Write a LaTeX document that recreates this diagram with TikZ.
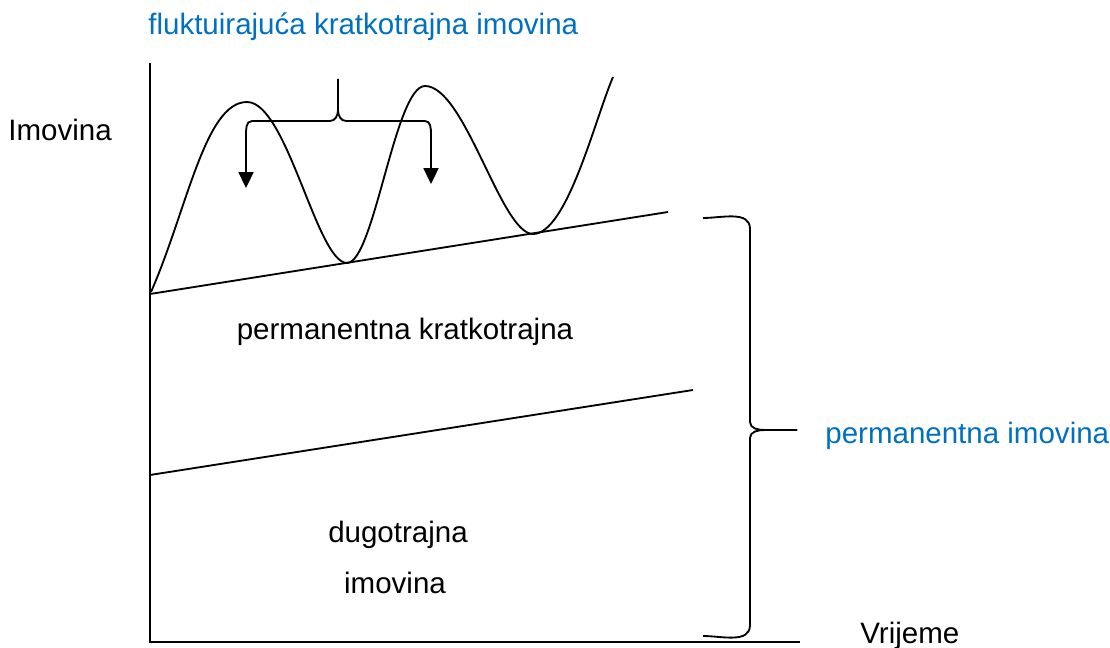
\documentclass[tikz,border=0pt]{standalone}
\usepackage{fontspec}
\setmainfont{Liberation Sans}
\usepackage{xcolor}
\usetikzlibrary{arrows.meta,positioning,calc}
\definecolor{lblue}{RGB}{0,112,192}

\begin{document}
\begin{tikzpicture}[
    x=0.02cm, y=-0.02cm,
    lbl/.style={font=\fontsize{16.8}{20}\selectfont, inner sep=0pt},
    blbl/.style={lbl, text=lblue},
    ln/.style={line width=1.05pt},
    arr/.style={ln, -{Triangle[length=9pt,width=8.5pt]}}
  ]
    \useasboundingbox (0,0) rectangle (1110,648);
    % axes
    \coordinate (o) at (150,642);
    \coordinate (ytop) at (150,63);
    \coordinate (xend) at (800,642);
    \draw[ln] (ytop) -- (o) -- (xend);
    % permanent levels
    \coordinate (a1) at (150,294);
    \coordinate (a2) at (668,212);
    \coordinate (b1) at (150,475);
    \coordinate (b2) at (693,390);
    \draw[ln] (a1) -- (a2);
    \draw[ln] (b1) -- (b2);
    % fluctuating assets
    \coordinate (p1) at (247,102);
    \coordinate (t1) at (347,263);
    \coordinate (p2) at (425,86);
    \coordinate (t2) at (533,234);
    \coordinate (wend) at (613,77);
    \draw[ln] (151,292) .. controls +(36,-82) and +(-42,0) .. (p1)
      .. controls +(40,0) and +(-30,0) .. (t1)
      .. controls +(27,0) and +(-30,0) .. (p2)
      .. controls +(40,0) and +(-32,0) .. (t2)
      .. controls +(34,0) and +(-18,42) .. (wend);
    % top brace with arrows
    \coordinate (tl) at (252,121);
    \coordinate (tr) at (425,121);
    \coordinate (tip) at (338,79);
    \draw[ln] (tl) -- (330,121) to[out=0,in=-90] (338,110) -- (tip);
    \draw[ln] (tr) -- (346,121) to[out=180,in=-90] (338,110);
    \draw[arr] (tl) to[out=180,in=90] (246,136) -- (246,188);
    \draw[arr] (tr) to[out=0,in=90] (431,134) -- (431,184);
    % right brace
    \coordinate (rt) at (703,218);
    \coordinate (rb) at (703,636);
    \coordinate (rtip) at (797,430);
    \draw[ln] (rt) to[out=0,in=90] (750,229) -- (750,422) to[out=-90,in=180] (765,430) -- (rtip);
    \draw[ln] (rtip) -- (765,430) to[out=180,in=90] (750,438) -- (750,625) to[out=-90,in=0] (rb);
    % labels
    \node[blbl, anchor=west] (fluk) at (148,27) {fluktuirajuća kratkotrajna imovina};
    \node[lbl, anchor=west] (imov) at (8,130) {Imovina};
    \node[lbl] (pk) at (405,332) {permanentna kratkotrajna};
    \node[lbl] (dug) at (398,535) {dugotrajna};
    \node[lbl] (dug2) at (395,583) {imovina};
    \node[blbl, anchor=west] (pi) at (825,436) {permanentna imovina};
    \node[lbl, anchor=west] (vrij) at (860,636) {Vrijeme};
\end{tikzpicture}
\end{document}
